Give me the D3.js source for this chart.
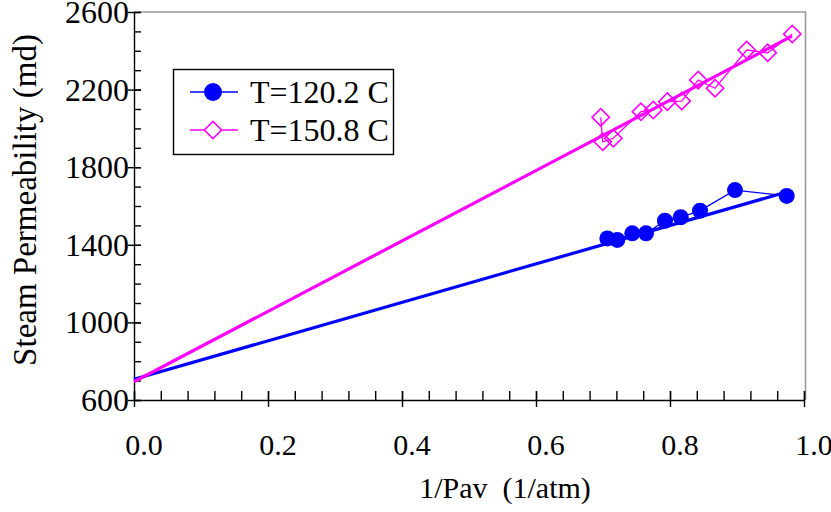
<!DOCTYPE html>
<html>
<head>
  <script src="https://cdn.jsdelivr.net/npm/d3@7"></script>
  <style>
    body { margin: 0; background: #fff; }
    text { font-family: "Liberation Serif", "Times New Roman", serif; fill: #000; }
  </style>
</head>
<body>
  <svg width="831" height="512" id="mainsvg"></svg>
  <script>
    // data
    const series = ['T=120.2 C', 'T=150.8 C'];
    const x120 = [0.7065, 0.7213, 0.7437, 0.7642, 0.7925, 0.8160, 0.8448, 0.8970, 0.9742];
    const k120 = [1433, 1425, 1459, 1459, 1524, 1542, 1576, 1682, 1652];
    const x150 = [0.6966, 0.6996, 0.7154, 0.7567, 0.7751, 0.7960, 0.8175, 0.8422, 0.8672, 0.9145, 0.9458, 0.9825];
    const k150 = [2057, 1931, 1949, 2086, 2095, 2138, 2141, 2249, 2207, 2404, 2390, 2487];
    // fitted straight lines, end points
    const fit120 = [[0, 707], [0.974, 1672]];
    const fit150 = [[0, 694], [0.982, 2476]];

    const xTicks = [0, 0.2, 0.4, 0.6, 0.8, 1.0];
    const xTickLabels = ['0.0', '0.2', '0.4', '0.6', '0.8', '1.0'];
    const xMinor = d3.range(0, 26).map(i => i * 0.04);
    const yTicks = [600, 1000, 1400, 1800, 2200, 2600];
    const yMinor = d3.range(600, 2601, 100);

    const svg = d3.select('#mainsvg');
    const x = d3.scaleLinear().domain([0, 1]).range([134, 804]);
    const y = d3.scaleLinear().domain([600, 2600]).range([400, 12]);

    // gray frame top / right
    svg.append('path')
      .attr('d', `M${x(0)},${y(2600)}H${x(1) + 1.5}V${y(600)}`)
      .attr('fill', 'none').attr('stroke', '#999').attr('stroke-width', 1.6);

    // x axis
    const gx = svg.append('g').attr('transform', `translate(0,${y(600)})`);
    gx.call(d3.axisBottom(x).tickValues(xMinor).tickSizeInner(-9).tickSizeOuter(0).tickFormat(''));
    gx.append('g').call(d3.axisBottom(x).tickValues(xTicks).tickSizeOuter(0).tickFormat(''))
      .call(g => g.select('.domain').remove())
      .selectAll('.tick line').attr('y1', -9).attr('y2', 7);
    gx.selectAll('path, line').attr('stroke', '#000').attr('stroke-width', 1.4);
    gx.selectAll('.lbl').data(xTicks).join('text')
      .attr('class', 'lbl')
      .attr('x', d => x(d) + 10).attr('y', 55)
      .attr('text-anchor', 'middle').attr('font-size', 30)
      .text((d, i) => xTickLabels[i]);

    // y axis
    const gy = svg.append('g').attr('transform', `translate(${x(0)},0)`);
    gy.call(d3.axisLeft(y).tickValues(yMinor).tickSizeInner(-7).tickSizeOuter(0).tickFormat(''));
    gy.append('g').call(d3.axisLeft(y).tickValues(yTicks).tickSizeOuter(0).tickFormat(''))
      .call(g => g.select('.domain').remove())
      .selectAll('.tick line').attr('x1', -6).attr('x2', 7);
    gy.selectAll('path, line').attr('stroke', '#000').attr('stroke-width', 1.4);
    gy.selectAll('.lbl').data(yTicks).join('text')
      .attr('class', 'lbl')
      .attr('x', -5).attr('y', d => y(d) + 11)
      .attr('text-anchor', 'end').attr('font-size', 32)
      .text(d => d);

    // axis titles
    svg.append('text')
      .attr('x', 505).attr('y', 498)
      .attr('text-anchor', 'middle').attr('font-size', 30)
      .attr('xml:space', 'preserve')
      .text('1/Pav  (1/atm)');
    svg.append('text')
      .attr('transform', 'translate(36,200) rotate(-90)')
      .attr('text-anchor', 'middle').attr('font-size', 33)
      .text('Steam Permeability (md)');

    const line = d3.line().x(d => x(d[0])).y(d => y(d[1]));

    // fitted lines
    svg.append('path').datum(fit120).attr('d', line)
      .attr('fill', 'none').attr('stroke', '#0000ff').attr('stroke-width', 3.2);
    svg.append('path').datum(fit150).attr('d', line)
      .attr('fill', 'none').attr('stroke', '#ff00ff').attr('stroke-width', 3.2);

    // measured data, joined by thin lines
    const pts120 = x120.map((v, i) => [v, k120[i]]);
    const pts150 = x150.map((v, i) => [v, k150[i]]);
    svg.append('path').datum(pts120).attr('d', line)
      .attr('fill', 'none').attr('stroke', '#0000ff').attr('stroke-width', 1.3);
    svg.append('path').datum(pts150).attr('d', line)
      .attr('fill', 'none').attr('stroke', '#ff00ff').attr('stroke-width', 1.3);

    svg.append('g').selectAll('circle').data(pts120).join('circle')
      .attr('cx', d => x(d[0])).attr('cy', d => y(d[1])).attr('r', 8)
      .attr('fill', '#0000ff');
    const diamond = d3.symbol().type(d3.symbolSquare).size(150);
    svg.append('g').selectAll('path').data(pts150).join('path')
      .attr('d', diamond)
      .attr('transform', d => `translate(${x(d[0])},${y(d[1])}) rotate(45)`)
      .attr('fill', 'none').attr('stroke', '#ff00ff').attr('stroke-width', 1.6);

    // legend
    const lg = svg.append('g');
    lg.append('rect').attr('x', 173.5).attr('y', 69.5).attr('width', 220).attr('height', 85)
      .attr('fill', '#fff').attr('stroke', '#000').attr('stroke-width', 1.4);
    const rows = [92, 130];
    const cols = ['#0000ff', '#ff00ff'];
    rows.forEach((ry, i) => {
      lg.append('line').attr('x1', 190).attr('x2', 238).attr('y1', ry).attr('y2', ry)
        .attr('stroke', cols[i]).attr('stroke-width', 1.3);
      if (i === 0) {
        lg.append('circle').attr('cx', 213).attr('cy', ry).attr('r', 9).attr('fill', cols[i]);
      } else {
        lg.append('path').attr('d', diamond)
          .attr('transform', `translate(213,${ry}) rotate(45)`)
          .attr('fill', '#fff').attr('stroke', cols[i]).attr('stroke-width', 1.6);
      }
      lg.append('text').attr('x', 250).attr('y', ry + 11).attr('font-size', 32).text(series[i]);
    });
  </script>
</body>
</html>
